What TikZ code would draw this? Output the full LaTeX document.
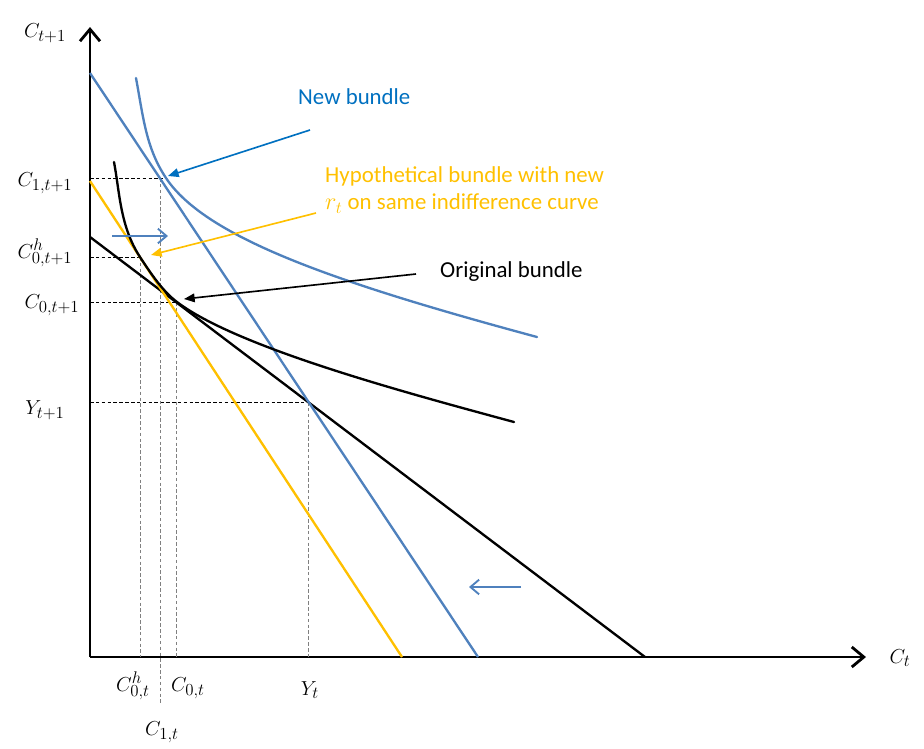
\documentclass[tikz,border=0pt]{standalone}
\usepackage{fontspec}
\setmainfont{Carlito}
\usetikzlibrary{arrows.meta}
\definecolor{lineblue}{RGB}{79,129,189}
\definecolor{textblue}{RGB}{0,112,192}
\definecolor{goldline}{RGB}{255,192,0}

\begin{document}
\begin{tikzpicture}[x=0.03cm,y=-0.03cm,
 axis/.style={line width=2.4pt, -{Straight Barb[length=3.6mm,width=6mm,line width=2.4pt]}},
 budget/.style={line width=2pt},
 indiff/.style={line width=2pt, line cap=round},
 guide/.style={dashed, line width=0.6pt, dash pattern=on 3pt off 2pt},
 callout/.style={line width=1.4pt, -{Triangle[length=3.2mm,width=2.6mm]}},
 moveArr/.style={line width=1.8pt, lineblue, -{Straight Barb[length=2.6mm,width=4.4mm,line width=1.6pt]}},
 lbl/.style={font=\fontsize{19}{22}\selectfont, inner sep=0pt},
 txt/.style={font=\fontsize{19.5}{23}\selectfont, inner sep=0pt, anchor=west, align=left},
]
 \useasboundingbox (0,0) rectangle (924,748);
 % axes
 \coordinate (O) at (90,657);
 \coordinate (ytop) at (90,27);
 \coordinate (xend) at (866,657);
 \draw[axis] (O) -- (ytop);
 \draw[axis] (O) -- (xend);
 \node[lbl] (ylab) at (45,33) {$C_{t+1}$};
 \node[lbl] (xlab) at (900,658) {$C_t$};
 % key points
 \coordinate (pnew) at (163,178);
 \coordinate (phyp) at (140,257);
 \coordinate (porig) at (176,302);
 \coordinate (pend) at (308,402);
 % guide lines
 \draw[guide] (90,178) -- (pnew);
 \draw[guide] (90,257) -- (phyp);
 \draw[guide] (90,302) -- (porig);
 \draw[guide] (90,402) -- (pend);
 \draw[guide, gray] (160,178) -- (160,705);
 \draw[guide, gray] (phyp) -- (140,657);
 \draw[guide, gray] (porig) -- (176,657);
 \draw[guide, gray] (pend) -- (308,657);
 % budget lines
 \draw[budget] (90,237) -- (645,657);
 \draw[budget, lineblue] (90,73) -- (478,657);
 \draw[budget, goldline] (90,181) -- (402,657);
 % indifference curves
 \draw[indiff] (114,162) .. controls (119.7,192) and (120,226.5) .. (phyp)
   .. controls (152,275.3) and (163,291.4) .. (177,302)
   .. controls (237,347.4) and (404,392.2) .. (514,422);
 \draw[indiff, lineblue] (136,78) .. controls (143.4,118) and (146,147.9) .. (166,178)
   .. controls (206,238.2) and (337,283) .. (537,337);
 % shift arrows
 \coordinate (rtail) at (112,236);
 \coordinate (rtip) at (168,236);
 \draw[moveArr] (rtail) -- (rtip);
 \coordinate (ltail) at (521,587);
 \coordinate (ltip) at (469,587);
 \draw[moveArr] (ltail) -- (ltip);
 % callouts
 \node[txt, text=textblue] (newlab) at (298,97) {New bundle};
 \node[txt, text=goldline] (hyplab) at (325,190) {Hypothetical bundle with new\\$r_t$ on same indifference curve};
 \node[txt] (origlab) at (440,272) {Original bundle};
 \coordinate (newtail) at (310,130);
 \coordinate (newtip) at (168,176);
 \draw[callout, textblue] (newtail) -- (newtip);
 \coordinate (hyptail) at (316,213);
 \coordinate (hyptip) at (151,255);
 \draw[callout, goldline] (hyptail) -- (hyptip);
 \coordinate (origtail) at (416,274);
 \coordinate (origtip) at (184,299);
 \draw[callout] (origtail) -- (origtip);
 % axis labels
 \node[lbl] (c1y) at (45,183) {$C_{1,t+1}$};
 \node[lbl] (chy) at (45,253) {$C^h_{0,t+1}$};
 \node[lbl] (c0y) at (52,305) {$C_{0,t+1}$};
 \node[lbl] (yy) at (45,410) {$Y_{t+1}$};
 \node[lbl] (chx) at (133,686) {$C^h_{0,t}$};
 \node[lbl] (c0x) at (188,688) {$C_{0,t}$};
 \node[lbl] (yx) at (310,690) {$Y_t$};
 \node[lbl] (c1x) at (162,732) {$C_{1,t}$};
\end{tikzpicture}
\end{document}
